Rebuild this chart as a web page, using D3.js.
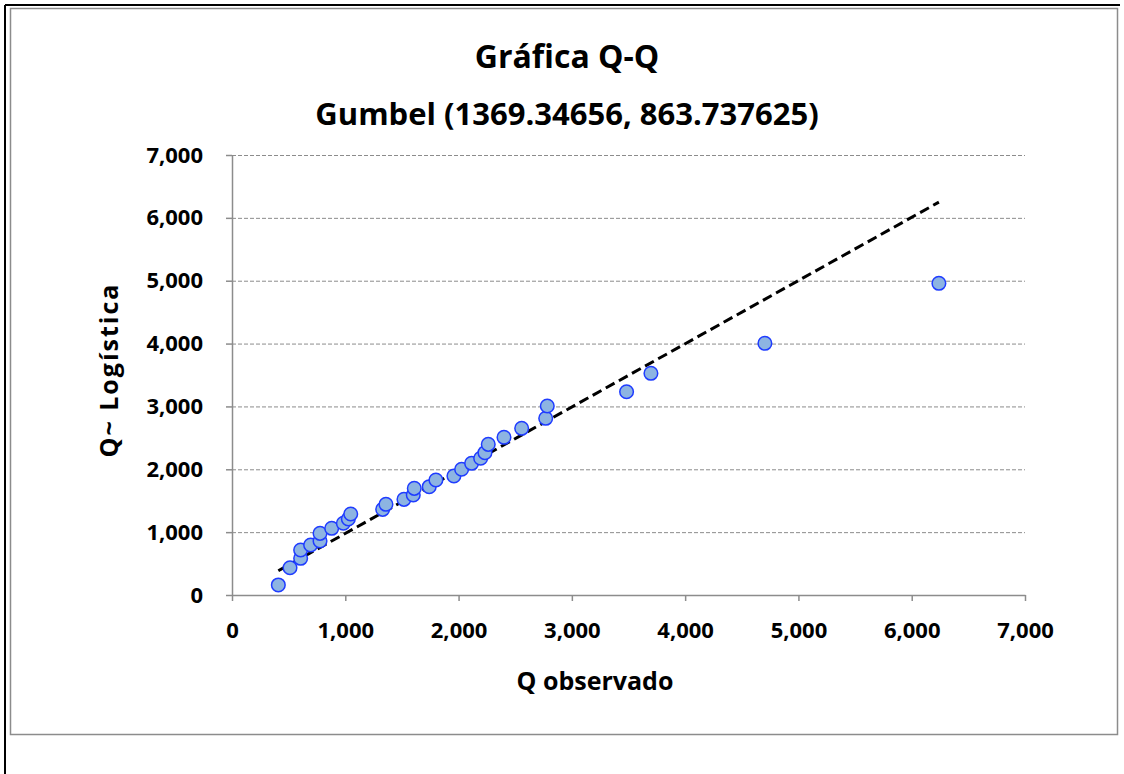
<!DOCTYPE html>
<html>
<head>
<meta charset="utf-8">
<script src="https://cdn.jsdelivr.net/npm/d3@7"></script>
<style>
  body { margin: 0; background: #fff; }
  svg text { font-family: "Open Sans", Lato, sans-serif; font-weight: bold; fill: #000; }
</style>
</head>
<body>
<svg id="chart" width="1124" height="774"></svg>
<script>
// Q observado vs Q~
const qObs = [409, 512, 606, 606, 694, 777, 777, 880, 983, 1027, 1048, 1330, 1359,
  1518, 1600, 1609, 1741, 1800, 1959, 2027, 2115, 2195, 2233, 2262, 2401, 2557,
  2769, 2783, 3483, 3698, 4704, 6240];
const qFit = [160, 434, 584, 716, 795, 859, 981, 1061, 1141, 1209, 1289, 1363, 1443,
  1522, 1591, 1697, 1723, 1829, 1893, 2000, 2095, 2175, 2264, 2397, 2509, 2652,
  2811, 3007, 3234, 3527, 4004, 4959];
// reference line end points
const lineX = [409, 6240];
const lineY = [385, 6250];
const ticks = [0, 1000, 2000, 3000, 4000, 5000, 6000, 7000];

const svg = d3.select("#chart");

// outer frame
svg.append("line").attr("x1", 5).attr("y1", 5).attr("x2", 1120).attr("y2", 5)
  .attr("stroke", "#000").attr("stroke-width", 2);
svg.append("line").attr("x1", 5).attr("y1", 5).attr("x2", 5).attr("y2", 774)
  .attr("stroke", "#000").attr("stroke-width", 2);
svg.append("rect").attr("x", 10.5).attr("y", 8.5).attr("width", 1107).attr("height", 726)
  .attr("fill", "#fff").attr("stroke", "#8c8c8c").attr("stroke-width", 1.5);

let x = d3.scaleLinear().domain([0, 7000]).range([232, 1025]);
let y = d3.scaleLinear().domain([0, 7000]).range([595, 155]);
let fmt = d3.format(",");

// gridlines
svg.append("g").selectAll("line").data(ticks.slice(1)).enter().append("line")
  .attr("x1", x(0)).attr("x2", x(7000))
  .attr("y1", d => y(d) + 0.5).attr("y2", d => y(d) + 0.5)
  .attr("stroke", "#8c8c8c").attr("stroke-dasharray", "4,2");

// axes
let xAxis = svg.append("g").attr("transform", "translate(0," + y(0) + ")")
  .call(d3.axisBottom(x).tickValues(ticks).tickFormat(fmt).tickSizeInner(6).tickSizeOuter(0).tickPadding(21));
let yAxis = svg.append("g").attr("transform", "translate(" + x(0) + ",0)")
  .call(d3.axisLeft(y).tickValues(ticks).tickFormat(fmt).tickSizeInner(6).tickSizeOuter(0).tickPadding(23));
[xAxis, yAxis].forEach(a => {
  a.select(".domain").attr("stroke", "#8c8c8c").attr("stroke-width", 1.5);
  a.selectAll(".tick line").attr("stroke", "#8c8c8c").attr("stroke-width", 1.5);
  a.selectAll("text").attr("font-size", 22).attr("fill", "#000")
    .attr("font-family", "'Open Sans', sans-serif").attr("font-weight", "bold");
});

// dashed reference line
svg.append("path").datum(lineX.map((d, i) => [d, lineY[i]]))
  .attr("d", d3.line().x(d => x(d[0])).y(d => y(d[1])))
  .attr("stroke", "#000").attr("stroke-width", 3).attr("stroke-dasharray", "10,5")
  .attr("fill", "none");

// points
svg.append("g").selectAll("circle").data(qObs).enter().append("circle")
  .attr("cx", d => x(d))
  .attr("cy", (d, i) => y(qFit[i]))
  .attr("r", 6.8)
  .attr("fill", "#8db4e2").attr("stroke", "#1f3cff").attr("stroke-width", 1.5);

// titles
svg.append("text").attr("x", 567).attr("y", 68).attr("text-anchor", "middle")
  .attr("font-size", 32).text("Gráfica Q-Q");
svg.append("text").attr("x", 567).attr("y", 125).attr("text-anchor", "middle")
  .attr("font-size", 31).text("Gumbel (1369.34656, 863.737625)");
svg.append("text").attr("x", 595).attr("y", 690).attr("text-anchor", "middle")
  .attr("font-size", 25).text("Q observado");
svg.append("text").attr("transform", "translate(118,370) rotate(-90)")
  .attr("text-anchor", "middle").attr("font-size", 25).attr("letter-spacing", 2)
  .text("Q~ Logística");
</script>
</body>
</html>
